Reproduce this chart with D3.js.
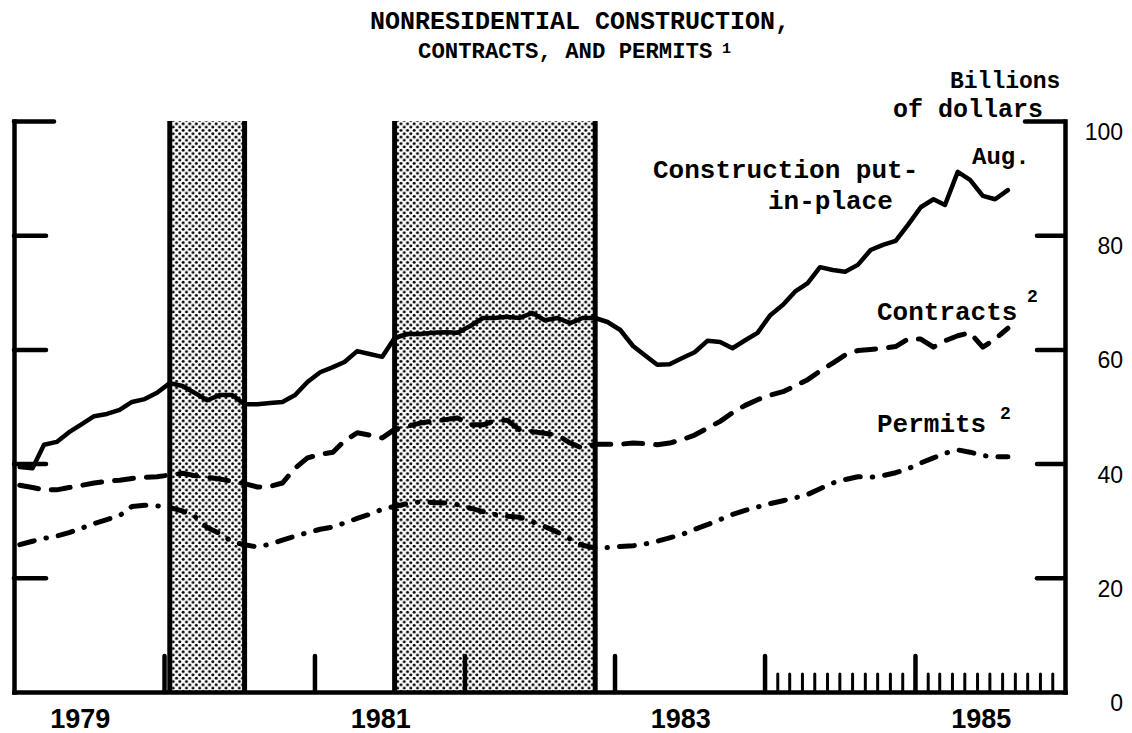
<!DOCTYPE html>
<html>
<head>
<meta charset="utf-8">
<script src="https://cdn.jsdelivr.net/npm/d3@7"></script>
<style>
	body { margin: 0; background: #fff; }
	svg { display: block; }
	.mono { font-family: "Liberation Mono", "Courier New", monospace; font-weight: 700; fill: #000; }
</style>
</head>
<body>
<div id="main"></div>
<script>
// monthly series, Jan 1979 .. Aug 1985, billions of dollars
const firstMonth = new Date(1979, 0, 1);
const lastMonth = new Date(1985, 7, 1);

const construction = [
	39.4, 39.2, 43.3, 43.8, 45.5, 46.9, 48.3, 48.7, 49.4, 50.8, 51.3, 52.4,
	54.1, 53.6, 52.4, 51.1, 52.0, 52.0, 50.4, 50.4, 50.6, 50.8, 52.0, 54.3,
	56.0, 56.9, 57.8, 59.7, 59.2, 58.7, 62.0, 62.7, 62.7, 62.9, 63.0, 62.9,
	64.1, 65.5, 65.5, 65.7, 65.5, 66.4, 65.1, 65.5, 64.6, 65.5, 65.5, 64.8,
	63.4, 60.6, 59.0, 57.3, 57.4, 58.5, 59.5, 61.5, 61.3, 60.2, 61.6, 62.9,
	66.0, 67.8, 70.1, 71.6, 74.4, 73.9, 73.6, 74.8, 77.4, 78.3, 79.0, 81.8,
	84.9, 86.3, 85.3, 91.1, 89.7, 86.9, 86.3, 87.9
];
const contracts = [
	36.2, 35.8, 35.4, 35.4, 35.8, 36.2, 36.6, 36.9, 37.1, 37.4, 37.6, 37.7,
	38.0, 38.3, 37.9, 37.6, 37.3, 36.9, 36.5, 35.9, 36.0, 36.6, 39.2, 41.0,
	41.6, 42.0, 44.0, 45.4, 45.0, 44.5, 46.0, 46.5, 47.1, 47.4, 47.7, 48.0,
	46.8, 46.8, 47.5, 47.6, 45.9, 45.6, 45.3, 45.0, 43.6, 42.7, 43.4, 43.4,
	43.4, 43.6, 43.5, 43.3, 43.6, 44.2, 45.0, 46.2, 47.4, 48.9, 50.2, 51.2,
	52.0, 52.6, 53.6, 54.7, 56.2, 57.6, 59.0, 59.8, 60.0, 60.2, 60.5, 61.8,
	61.8, 60.4, 61.5, 62.4, 62.9, 60.4, 61.8, 63.7
];
const permits = [
	25.8, 26.4, 26.9, 27.3, 27.9, 28.7, 29.5, 30.2, 30.9, 32.5, 32.7, 32.6,
	32.3, 31.7, 30.8, 28.8, 27.8, 26.3, 25.8, 25.4, 25.9, 26.6, 27.3, 27.9,
	28.5, 28.9, 29.6, 30.4, 31.1, 32.0, 32.5, 33.0, 33.3, 33.2, 33.1, 32.8,
	32.2, 31.6, 31.1, 30.8, 30.6, 29.8, 29.0, 28.0, 26.8, 25.7, 25.2, 25.3,
	25.5, 25.6, 25.9, 26.4, 27.0, 27.6, 28.5, 29.3, 30.2, 31.1, 31.8, 32.4,
	33.0, 33.5, 34.0, 34.6, 35.6, 36.6, 37.2, 37.7, 37.6, 37.9, 38.4, 39.1,
	40.1, 41.0, 41.8, 42.4, 42.0, 41.4, 41.2, 41.2
];

// recessions: peak month to trough month
const recessions = [
	[new Date(1980, 0, 1), new Date(1980, 6, 1)],
	[new Date(1981, 6, 1), new Date(1982, 10, 1)]
];

const yTicks = [0, 20, 40, 60, 80, 100];
const yearLabels = [1979, 1981, 1983, 1985];

const months = d3.timeMonths(firstMonth, d3.timeMonth.offset(lastMonth, 1));
const mid = (d) => d3.timeDay.offset(d, 14);

const sizes = { width: 1132, height: 733 };
const plot = { left: 14, right: 1065, top: 121, bottom: 692 };

const svg = d3
	.select("#main")
	.append("svg")
	.attr("width", sizes.width)
	.attr("height", sizes.height);

const x = d3
	.scaleTime()
	.domain([new Date(1979, 0, 1), new Date(1986, 0, 1)])
	.range([plot.left, plot.right]);
const y = d3.scaleLinear().domain([0, 100]).range([plot.bottom, plot.top]);

// halftone dots for the recession bands
const pat = svg
	.append("defs")
	.append("pattern")
	.attr("id", "dots")
	.attr("patternUnits", "userSpaceOnUse")
	.attr("width", 6.6)
	.attr("height", 6.6);
pat.append("circle").attr("cx", 1.65).attr("cy", 1.65).attr("r", 1.5).attr("fill", "#000");
pat.append("circle").attr("cx", 4.95).attr("cy", 4.95).attr("r", 1.5).attr("fill", "#000");

const bands = svg.append("g").classed("bands", true);
recessions.forEach(([a, b]) => {
	const x0 = x(mid(a));
	const x1 = x(mid(b));
	bands
		.append("rect")
		.attr("x", x0)
		.attr("y", y(100))
		.attr("width", x1 - x0)
		.attr("height", y(0) - y(100))
		.attr("fill", "url(#dots)");
	[x0, x1].forEach((xx) => {
		bands
			.append("line")
			.attr("x1", xx)
			.attr("x2", xx)
			.attr("y1", y(100))
			.attr("y2", y(0))
			.attr("stroke", "#000")
			.attr("stroke-width", 5);
	});
});

// axes
const styleAxis = (g, w) => {
	g.selectAll("path.domain").attr("stroke", "#000").attr("stroke-width", w).attr("stroke-linecap", "square");
	g.selectAll(".tick line").attr("stroke", "#000").attr("stroke-width", w).attr("stroke-linecap", "round");
};

const leftAxis = svg
	.append("g")
	.attr("transform", `translate(${plot.left},0)`)
	.call(d3.axisRight(y).tickValues([20, 40, 60, 80, 100]).tickSize(32).tickSizeOuter(0).tickFormat(""));
leftAxis.selectAll(".tick").filter((d) => d === 100).select("line").attr("x2", 40);
styleAxis(leftAxis, 4.5);

const rightAxis = svg
	.append("g")
	.attr("transform", `translate(${plot.right},0)`)
	.call(d3.axisLeft(y).tickValues([20, 40, 60, 80, 100]).tickSize(28).tickSizeOuter(0).tickFormat(""));
rightAxis.selectAll(".tick").filter((d) => d === 100).select("line").attr("x2", -40);
styleAxis(rightAxis, 4.5);

const rightLabels = svg
	.append("g")
	.attr("transform", `translate(${plot.right},0)`)
	.call(d3.axisRight(y).tickValues(yTicks).tickSize(0).tickPadding(58).tickFormat(d3.format("d")));
rightLabels.select("path.domain").remove();
rightLabels
	.selectAll("text")
	.attr("text-anchor", "end")
	.attr("dy", "0.8em")
	.style("font-family", "'Liberation Sans', Arial, sans-serif")
	.style("font-size", "23px")
	.attr("fill", "#000");

const minorAxis = svg
	.append("g")
	.attr("transform", `translate(0,${plot.bottom})`)
	.call(
		d3.axisBottom(x)
			.tickValues(d3.timeMonths(new Date(1984, 0, 1), new Date(1986, 0, 1)))
			.tickSize(-18)
			.tickSizeOuter(0)
			.tickFormat("")
	);
styleAxis(minorAxis, 3);

const yearAxis = svg
	.append("g")
	.attr("transform", `translate(0,${plot.bottom})`)
	.call(
		d3.axisBottom(x)
			.tickValues(d3.timeYears(new Date(1980, 0, 1), new Date(1986, 0, 1)))
			.tickSize(-36)
			.tickSizeOuter(0)
			.tickFormat("")
	);
styleAxis(yearAxis, 4.5);

const yearText = svg
	.append("g")
	.attr("transform", `translate(0,${plot.bottom})`)
	.call(
		d3.axisBottom(x)
			.tickValues(yearLabels.map((yr) => new Date(yr, 5, 10)))
			.tickSize(0)
			.tickPadding(17)
			.tickFormat(d3.timeFormat("%Y"))
	);
yearText.select("path.domain").remove();
yearText
	.selectAll("text")
	.style("font-family", "'Liberation Sans', Arial, sans-serif")
	.style("font-size", "27px")
	.style("font-weight", 700)
	.attr("fill", "#000");

// series
const line = d3
	.line()
	.x((d, i) => x(mid(months[i])))
	.y((d) => y(d));

const series = [
	{ name: "construction", values: construction, dash: null, width: 4.5 },
	{ name: "contracts", values: contracts, dash: "19 13", width: 5 },
	{ name: "permits", values: permits, dash: "15 12 0.5 12", width: 5 }
];

svg
	.append("g")
	.selectAll("path.series")
	.data(series)
	.enter()
	.append("path")
	.classed("series", true)
	.attr("d", (d) => line(d.values))
	.attr("fill", "none")
	.attr("stroke", "#000")
	.attr("stroke-width", (d) => d.width)
	.attr("stroke-linejoin", "round")
	.attr("stroke-linecap", "round")
	.attr("stroke-dasharray", (d) => d.dash);

// title and labels
const text = (str, xx, yy, size) =>
	svg
		.append("text")
		.classed("mono", true)
		.attr("x", xx)
		.attr("y", yy)
		.style("font-size", size + "px")
		.text(str);

text("NONRESIDENTIAL CONSTRUCTION,", 370, 29, 25);
text("CONTRACTS, AND PERMITS", 418, 58, 22.3);
text("1", 722, 53, 15);

text("Billions", 950, 88, 23);
text("of dollars", 893, 117, 25);

text("Construction put-", 653, 178, 26);
text("in-place", 768, 209, 26);
text("Aug.", 972, 164, 24);
text("Contracts", 877, 320, 26);
text("2", 1027, 302, 18);
text("Permits", 877, 432, 26);
text("2", 1000, 419, 18);
</script>
</body>
</html>
